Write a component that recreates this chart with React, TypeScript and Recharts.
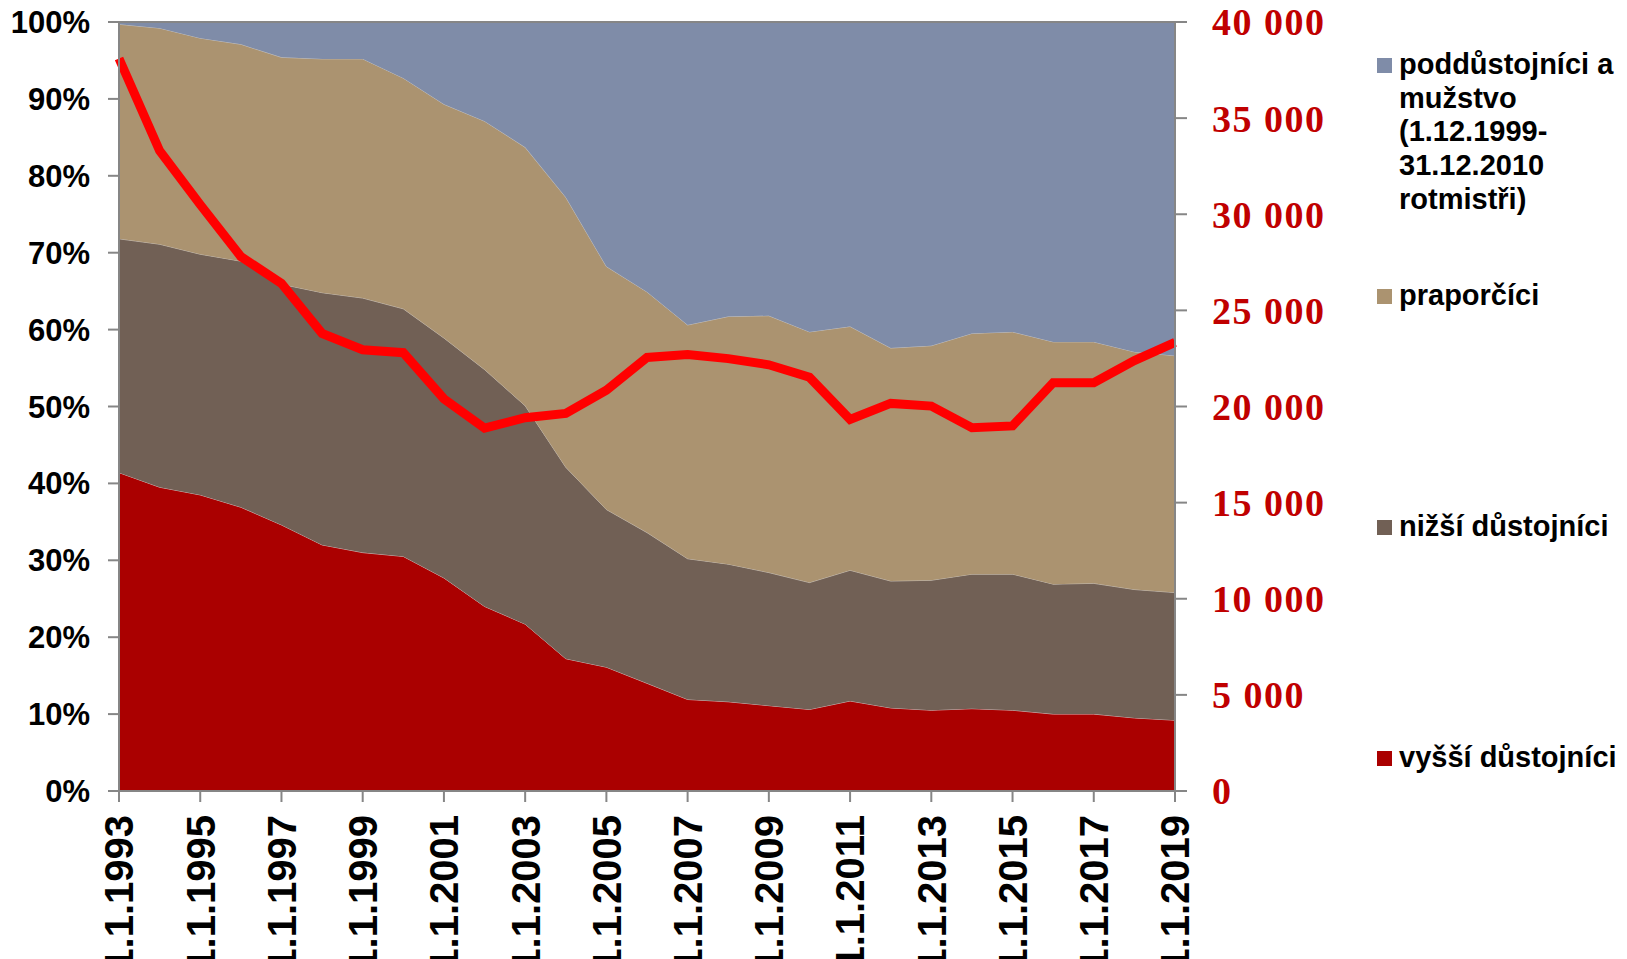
import React from 'react';
import { ComposedChart, Area, Line, XAxis, YAxis, ReferenceLine } from 'recharts';

// ---- data ----
const years = [
  1993, 1994, 1995, 1996, 1997, 1998, 1999, 2000, 2001, 2002, 2003, 2004, 2005, 2006,
  2007, 2008, 2009, 2010, 2011, 2012, 2013, 2014, 2015, 2016, 2017, 2018, 2019,
];

// share of each category (%)
const vyssiDustojnici = [
  41.4, 39.5, 38.5, 36.9, 34.6, 32.0, 31.0, 30.5, 27.7, 24.0, 21.7, 17.2, 16.1, 14.0,
  11.9, 11.6, 11.1, 10.6, 11.7, 10.8, 10.5, 10.7, 10.5, 10.0, 10.0, 9.5, 9.2,
];
const nizsiDustojnici = [
  30.4, 31.6, 31.3, 32.0, 31.3, 32.8, 33.1, 32.2, 31.2, 30.8, 28.4, 24.9, 20.5, 19.6,
  18.3, 17.9, 17.3, 16.5, 17.0, 16.5, 16.9, 17.5, 17.7, 16.9, 17.0, 16.7, 16.6,
];
const praporcici = [
  27.9, 28.1, 28.1, 28.2, 29.5, 30.4, 31.1, 30.0, 30.4, 32.3, 33.6, 35.1, 31.6, 31.3,
  30.4, 32.2, 33.4, 32.6, 31.7, 30.3, 30.5, 31.3, 31.5, 31.5, 31.4, 30.9, 30.8,
];
const poddustojnici = [
  0.3, 0.8, 2.1, 2.9, 4.6, 4.8, 4.8, 7.3, 10.7, 12.9, 16.3, 22.8, 31.8, 35.1,
  39.4, 38.3, 38.2, 40.3, 39.6, 42.4, 42.1, 40.5, 40.3, 41.6, 41.6, 42.9, 43.4,
];
// total headcount (right axis)
const pocetCelkem = [
  38100, 33300, 30500, 27800, 26400, 23800, 22950, 22800, 20400, 18880, 19420, 19640, 20850, 22550,
  22700, 22490, 22170, 21520, 19330, 20160, 20020, 18900, 18990, 21240, 21240, 22390, 23330,
];

const xTickYears = [1993, 1995, 1997, 1999, 2001, 2003, 2005, 2007, 2009, 2011, 2013, 2015, 2017, 2019];
const xTickLabels = [
  '1.1.1993', '1.1.1995', '1.1.1997', '1.1.1999', '1.1.2001', '1.1.2003', '1.1.2005',
  '1.1.2007', '1.1.2009', '1.1.2011', '1.1.2013', '1.1.2015', '1.1.2017', '1.1.2019',
];
const pctTicks = [0, 10, 20, 30, 40, 50, 60, 70, 80, 90, 100];
const pctTickLabels = ['0%', '10%', '20%', '30%', '40%', '50%', '60%', '70%', '80%', '90%', '100%'];
const countTicks = [0, 5000, 10000, 15000, 20000, 25000, 30000, 35000, 40000];
const countTickLabels = ['0', '5 000', '10 000', '15 000', '20 000', '25 000', '30 000', '35 000', '40 000'];

const legendLabels = [
  ['poddůstojníci a', 'mužstvo', '(1.12.1999-', '31.12.2010', 'rotmistři)'],
  ['praporčíci'],
  ['nižší důstojníci'],
  ['vyšší důstojníci'],
];

const data = years.map((year, i) => ({
  year,
  vyssi: vyssiDustojnici[i],
  nizsi: nizsiDustojnici[i],
  prap: praporcici[i],
  podd: poddustojnici[i],
  pocet: pocetCelkem[i],
}));

// ---- styles ----
const SANS = '"Liberation Sans", Arial, Helvetica, sans-serif';
const SERIF = '"Liberation Serif", "Times New Roman", serif';
const AXIS = '#868686';
const C_PODD = '#7F8CA8';
const C_PRAP = '#AB9370';
const C_NIZSI = '#716055';
const C_VYSSI = '#AA0000';
const legendColors = [C_PODD, C_PRAP, C_NIZSI, C_VYSSI];

const XTick = (props: any) => {
  const { x, y, payload } = props;
  const idx = xTickYears.indexOf(payload.value);
  return (
    <text
      x={x}
      y={y}
      dy="0.36em"
      transform={`rotate(-90, ${x}, ${y})`}
      textAnchor="end"
      fontFamily={SANS}
      fontWeight="bold"
      fontSize={40}
      fill="#000"
    >
      {idx >= 0 ? xTickLabels[idx] : String(payload.value)}
    </text>
  );
};

const LegendBox = () => (
  <div style={{ position: 'absolute', left: 1377, top: 0, width: 250, height: 959 }}>
    {legendLabels.map((lines, i) => (
      <div key={i} style={{ position: 'absolute', left: 0, top: 48 + i * 231 }}>
        <div
          style={{
            position: 'absolute',
            left: 0,
            top: 10,
            width: 15,
            height: 15,
            background: legendColors[i],
          }}
        />
        <div
          style={{
            position: 'absolute',
            left: 22,
            top: 0,
            fontFamily: SANS,
            fontWeight: 'bold',
            fontSize: 29,
            lineHeight: '33.7px',
            color: '#000',
            whiteSpace: 'nowrap',
          }}
        >
          {lines.map((l, j) => (
            <div key={j}>{l}</div>
          ))}
        </div>
      </div>
    ))}
  </div>
);

export default function App() {
  return (
    <div style={{ position: 'absolute', left: 0, top: 0, width: 1627, height: 959, background: '#fff', overflow: 'hidden' }}>
      <ComposedChart
        width={1627}
        height={959}
        data={data}
        margin={{ top: 22, right: 252, bottom: 0, left: 0 }}
      >
        <XAxis
          dataKey="year"
          type="number"
          domain={[1993, 2019]}
          ticks={xTickYears}
          interval={0}
          height={168}
          stroke={AXIS}
          strokeWidth={2}
          tickSize={11}
          tickMargin={13}
          tick={<XTick />}
          allowDecimals={false}
        />
        <YAxis
          yAxisId="left"
          orientation="left"
          domain={[0, 100]}
          ticks={pctTicks}
          width={119}
          stroke={AXIS}
          strokeWidth={2}
          tickSize={11}
          tickMargin={18}
          tickFormatter={(v: number) => pctTickLabels[pctTicks.indexOf(v)]}
          tick={{ fill: '#000', fontFamily: SANS, fontWeight: 'bold', fontSize: 31 }}
          interval={0}
        />
        <YAxis
          yAxisId="right"
          orientation="right"
          domain={[0, 40000]}
          ticks={countTicks}
          width={200}
          stroke={AXIS}
          strokeWidth={2}
          tickSize={12}
          tickMargin={25}
          tickFormatter={(v: number) => countTickLabels[countTicks.indexOf(v)]}
          tick={{ fill: '#C00000', fontFamily: SERIF, fontWeight: 'bold', fontSize: 38, letterSpacing: 1.5 }}
          interval={0}
        />
        <Area
          yAxisId="left"
          type="linear"
          dataKey="vyssi"
          stackId="1"
          fill={C_VYSSI}
          fillOpacity={1}
          stroke="#d8c8c8"
          strokeWidth={0.8}
          isAnimationActive={false}
        />
        <Area
          yAxisId="left"
          type="linear"
          dataKey="nizsi"
          stackId="1"
          fill={C_NIZSI}
          fillOpacity={1}
          stroke="#c8c0b8"
          strokeWidth={0.8}
          isAnimationActive={false}
        />
        <Area
          yAxisId="left"
          type="linear"
          dataKey="prap"
          stackId="1"
          fill={C_PRAP}
          fillOpacity={1}
          stroke="#c8c4c0"
          strokeWidth={0.8}
          isAnimationActive={false}
        />
        <Area
          yAxisId="left"
          type="linear"
          dataKey="podd"
          stackId="1"
          fill={C_PODD}
          fillOpacity={1}
          stroke="none"
          isAnimationActive={false}
        />
        <ReferenceLine yAxisId="left" y={100} stroke={AXIS} strokeWidth={2} />
        <Line
          yAxisId="right"
          type="linear"
          dataKey="pocet"
          stroke="#FF0000"
          strokeWidth={9}
          dot={false}
          activeDot={false}
          isAnimationActive={false}
        />
      </ComposedChart>
      <LegendBox />
    </div>
  );
}
